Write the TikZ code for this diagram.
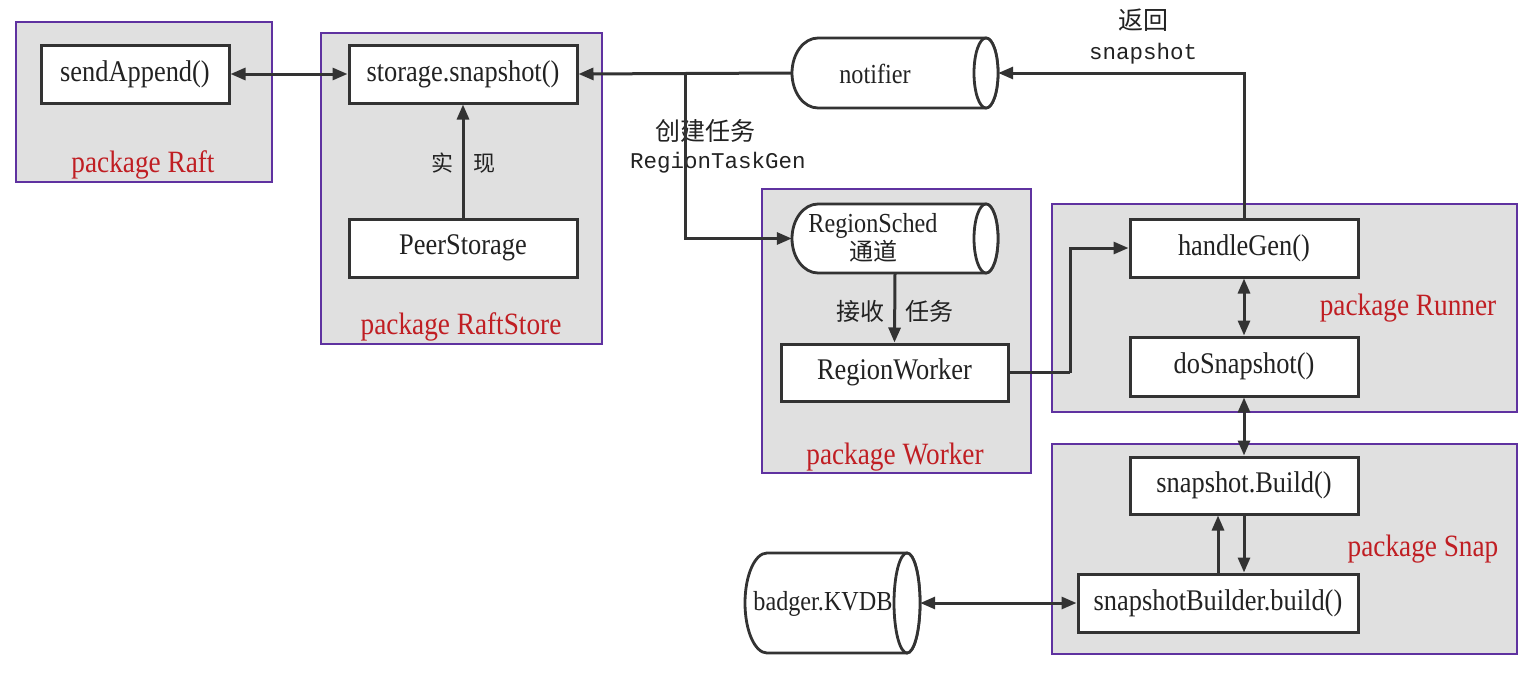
\documentclass[tikz,border=0pt]{standalone}
\usepackage{fontspec}
\setmainfont{Liberation Serif}[FakeStretch=0.88]
\setmonofont{Liberation Mono}
\newfontfamily\cjk{Noto Sans CJK SC}
\usetikzlibrary{arrows.meta}
\definecolor{pkfill}{RGB}{224,224,224}
\definecolor{pkline}{RGB}{95,50,160}
\definecolor{pkred}{RGB}{192,30,35}
\definecolor{ln}{RGB}{51,51,51}
\definecolor{tx}{RGB}{34,34,34}
\newcommand\cylpath[6]{%
  \filldraw[cylst] (#2-#6,#3-#4) -- (#1+#5,#3-#4) arc[start angle=90,end angle=270,x radius=#5pt,y radius=#4pt] -- (#2-#6,#3+#4) arc[start angle=-90,end angle=90,x radius=#6pt,y radius=#4pt] -- cycle;
  \draw[cylst] (#2-#6,#3) ellipse[x radius=#6pt,y radius=#4pt];}
\begin{document}
\begin{tikzpicture}[x=1pt,y=-1pt,
  pkg/.style={fill=pkfill, draw=pkline, line width=1.2pt},
  pklabel/.style={text=pkred, font=\fontsize{31}{34}\selectfont, inner sep=0},
  fnbox/.style={draw=ln, line width=3pt, fill=white, minimum height=58pt, minimum width=228pt, inner sep=0, text=tx, font=\fontsize{30}{34}\selectfont},
  cylst/.style={draw=ln, line width=2.8pt, fill=white},
  cylanchor/.style={draw=none, inner sep=0},
  cyltext/.style={text=tx, inner sep=0, align=center, font=\fontsize{27.5}{28}\selectfont},
  cjklabel/.style={text=tx, inner sep=0, font=\fontsize{24}{28}\selectfont\cjk},
  monolabel/.style={text=tx, inner sep=0, font=\fontsize{22.5}{26}\selectfont\ttfamily},
  arr/.style={draw=ln, line width=3pt, -{Triangle[length=15pt,width=12pt]}},
  dbl/.style={draw=ln, line width=3pt, {Triangle[length=15pt,width=12pt]}-{Triangle[length=15pt,width=12pt]}},
  plain/.style={draw=ln, line width=3pt}
]
\useasboundingbox (0,0) rectangle (1531,672);
\fill[white] (0,0) rectangle (1531,672);

% packages
\draw[pkg] (16,22) rectangle (272,182);
\draw[pkg] (321,33) rectangle (602,344);
\draw[pkg] (762,189) rectangle (1031,473);
\draw[pkg] (1052,204) rectangle (1517,412);
\draw[pkg] (1052,444) rectangle (1517,654);

\node[pklabel] (lraft) at (143,165) {package Raft};
\node[pklabel] (lstore) at (461,327) {package RaftStore};
\node[pklabel] (lworker) at (895,457) {package Worker};
\node[pklabel] (lrunner) at (1408,308) {package Runner};
\node[pklabel] (lsnap) at (1423,549) {package Snap};

% cylinders
\cylpath{792}{998}{73}{35}{26}{12}
\node[cylanchor, minimum width=206pt, minimum height=70pt] (notif) at (895,73) {};
\node[cyltext] (notiftxt) at (875,74) {notifier};

\cylpath{792}{998}{238.5}{34.5}{26}{12}
\node[cylanchor, minimum width=206pt, minimum height=69pt] (sched) at (895,238.5) {};
\node[cyltext] (schedtxt) at (873,238) {RegionSched\\{\cjk\fontsize{24}{28}\selectfont 通道}};

\cylpath{745}{920}{603}{50}{22}{13}
\node[cylanchor, minimum width=175pt, minimum height=100pt] (badger) at (832.5,603) {};
\node[cyltext] (badgertxt) at (823,604) {badger.KVDB};

% boxes
\node[fnbox, minimum width=188pt] (send) at (135,74) {sendAppend()};
\node[fnbox] (stor) at (463,74) {storage.snapshot()};
\node[fnbox] (peer) at (463,248) {PeerStorage};
\node[fnbox, minimum width=227pt, minimum height=57pt] (worker) at (894.5,372.5) {RegionWorker};
\node[fnbox] (hg) at (1244,248) {handleGen()};
\node[fnbox, minimum height=59pt] (dosnap) at (1244,366.5) {doSnapshot()};
\node[fnbox, minimum height=57pt] (build) at (1244,485.5) {snapshot.Build()};
\node[fnbox, minimum width=280pt] (bld) at (1218,603) {snapshotBuilder.build()};

% labels
\node[cjklabel, font=\fontsize{22}{26}\selectfont\cjk] (limpl) at (463,163) {实\hspace{20pt}现};
\node[cjklabel] (lrecv) at (895,311) {接收\hspace{22pt}任务};
\node[cjklabel, font=\fontsize{25}{28}\selectfont\cjk] (lcreate) at (705,131) {创建任务};
\node[monolabel] (ltaskgen) at (718,163) {RegionTaskGen};
\node[cjklabel, font=\fontsize{25}{28}\selectfont\cjk] (lret) at (1143,20) {返回};
\node[monolabel] (lsnapshot) at (1143,54) {snapshot};

% connectors
\coordinate (br) at (685,73);
\coordinate (wb) at (1070,372.5);
\draw[dbl] (send) -- (stor);
\draw[arr] (peer) -- (stor);
\draw[arr] (notif.west) -- (stor.east);
\draw[arr] (br) |- (sched.west);
\draw[arr] (hg.north) |- (notif.east);
\draw[arr] (sched.south) -- (worker.north);
\draw[plain] (worker.east) -- (wb);
\draw[arr] (wb) |- (hg.west);
\draw[dbl] (hg) -- (dosnap);
\draw[dbl] (dosnap) -- (build);
\draw[arr] (bld.north) -- (bld.north |- build.south);
\draw[arr] (build.south) -- (build.south |- bld.north);
\draw[dbl] (badger.east) -- (bld.west);
\end{tikzpicture}
\end{document}
